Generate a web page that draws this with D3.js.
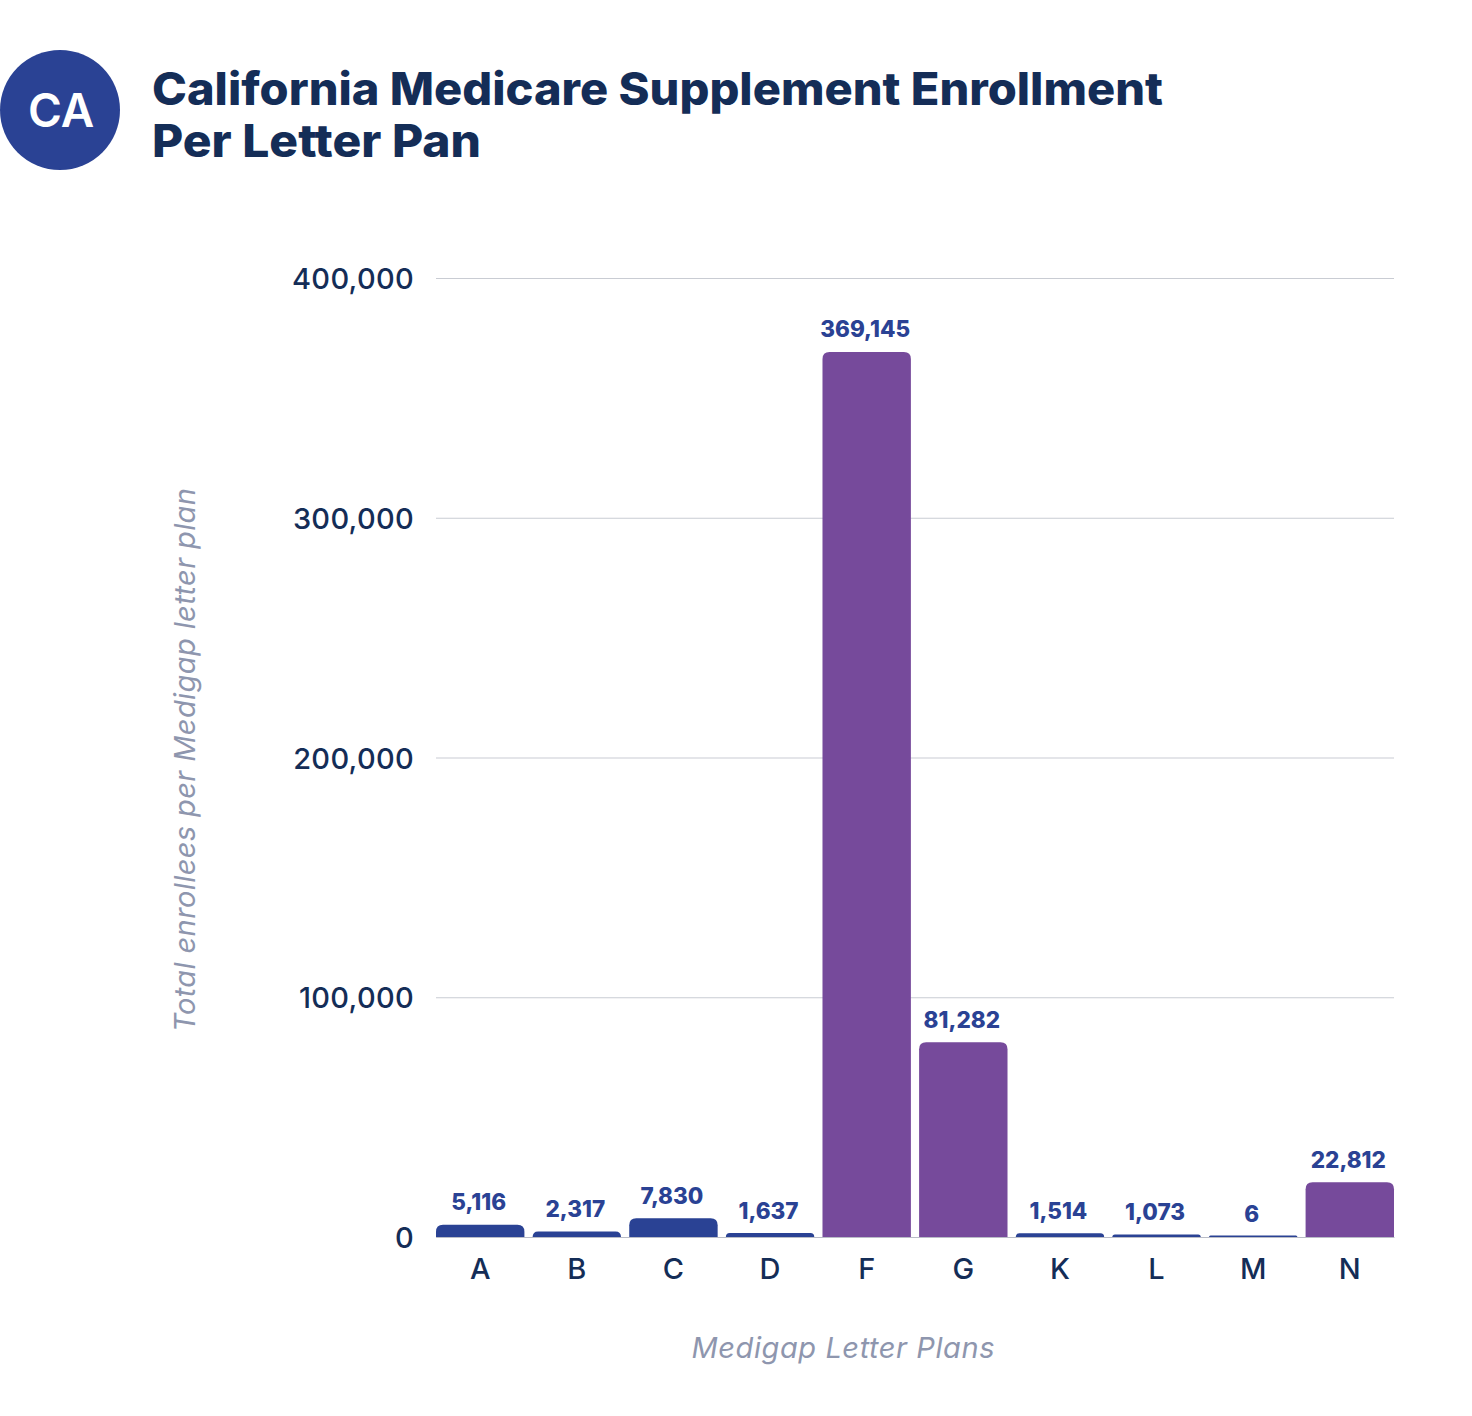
<!DOCTYPE html>
<html>
<head>
<meta charset="utf-8">
<script src="https://cdn.jsdelivr.net/npm/d3@7"></script>
<style>
  html, body { margin: 0; padding: 0; background: #fff; }
  svg { display: block; }
  text { font-family: Inter, "Open Sans", sans-serif; }
</style>
</head>
<body>
<svg id="chart" width="1472" height="1416"></svg>
<script>
const categories = ["A", "B", "C", "D", "F", "G", "K", "L", "M", "N"];
const enrollees = [5116, 2317, 7830, 1637, 369145, 81282, 1514, 1073, 6, 22812];
const highlighted = ["F", "G", "N"];
const yTicks = [0, 100000, 200000, 300000, 400000];
const titleLines = ["California Medicare Supplement Enrollment", "Per Letter Pan"];

const navy = "#142d57", blue = "#2a4294", purple = "#764a9b", grey = "#8e96ae";
const svg = d3.select("#chart");
const fmt = d3.format(",");

const x = d3.scaleBand().domain(categories).range([436, 1394]).paddingInner(0.085).paddingOuter(0);
const y = d3.scaleLinear().domain([0, 400000]).range([1237, 278]);

// header badge
svg.append("circle").attr("cx", 60).attr("cy", 110).attr("r", 60).attr("fill", blue);
svg.append("text").attr("x", 61).attr("y", 127).attr("text-anchor", "middle")
  .attr("font-size", 46).attr("font-weight", 600).attr("fill", "#fff").text("CA");

svg.selectAll("text.title").data(titleLines).join("text")
  .attr("class", "title")
  .attr("x", 152)
  .attr("y", (d, i) => 104.5 + i * 52)
  .attr("font-size", 45)
  .attr("font-weight", 800)
  .attr("fill", navy)
  .attr("textLength", (d, i) => i == 0 ? 1011 : 329)
  .attr("lengthAdjust", "spacingAndGlyphs")
  .text(d => d);

// y axis + gridlines
const yAxis = d3.axisLeft(y).tickValues(yTicks).tickFormat(fmt).tickSize(-958).tickPadding(22);
const gy = svg.append("g").attr("transform", "translate(436,0)").call(yAxis);
gy.select(".domain").remove();
gy.selectAll(".tick line").attr("stroke", "#c9ccd3").attr("stroke-width", 1.2);
gy.selectAll(".tick text")
  .attr("font-size", 29).attr("font-weight", 500).attr("fill", navy)
  .attr("letter-spacing", 0.3)
  .attr("dy", "0.37em");

// bars, rounded on top only
function barPath(d, i) {
  const x0 = x(categories[i]), w = x.bandwidth();
  const h = Math.max(y(0) - y(d), 1.5);
  const r = Math.min(7, h);
  const top = y(0) - h;
  return `M${x0},${y(0)}V${top + r}Q${x0},${top} ${x0 + r},${top}H${x0 + w - r}Q${x0 + w},${top} ${x0 + w},${top + r}V${y(0)}Z`;
}
svg.selectAll("path.bar").data(enrollees).join("path")
  .attr("class", "bar")
  .attr("d", barPath)
  .attr("fill", (d, i) => highlighted.includes(categories[i]) ? purple : blue);

// value labels
svg.selectAll("text.value").data(enrollees).join("text")
  .attr("class", "value")
  .attr("x", (d, i) => x(categories[i]) + x.bandwidth() / 2 - 1.5)
  .attr("y", d => y(d) - 14.5)
  .attr("text-anchor", "middle")
  .attr("font-size", 22.5)
  .attr("font-weight", 800)
  .attr("fill", blue)
  .text(fmt);

// x axis
const xAxis = d3.axisBottom(x).tickSize(0).tickPadding(21);
const gx = svg.append("g").attr("transform", "translate(0,1237)").call(xAxis);
gx.select(".domain").attr("stroke", "#b9bcc6").attr("stroke-width", 1);
gx.selectAll(".tick text")
  .attr("font-size", 29).attr("font-weight", 500).attr("fill", navy);

// axis titles
svg.append("text").attr("x", 843).attr("y", 1358).attr("text-anchor", "middle")
  .attr("font-size", 29).attr("font-style", "italic").attr("font-weight", 400).attr("fill", grey)
  .attr("textLength", 303)
  .text("Medigap Letter Plans");
svg.append("text").attr("transform", "translate(195,760) rotate(-90)").attr("text-anchor", "middle")
  .attr("font-size", 29).attr("font-style", "italic").attr("font-weight", 400).attr("fill", grey)
  .attr("textLength", 544)
  .text("Total enrollees per Medigap letter plan");
</script>
</body>
</html>
